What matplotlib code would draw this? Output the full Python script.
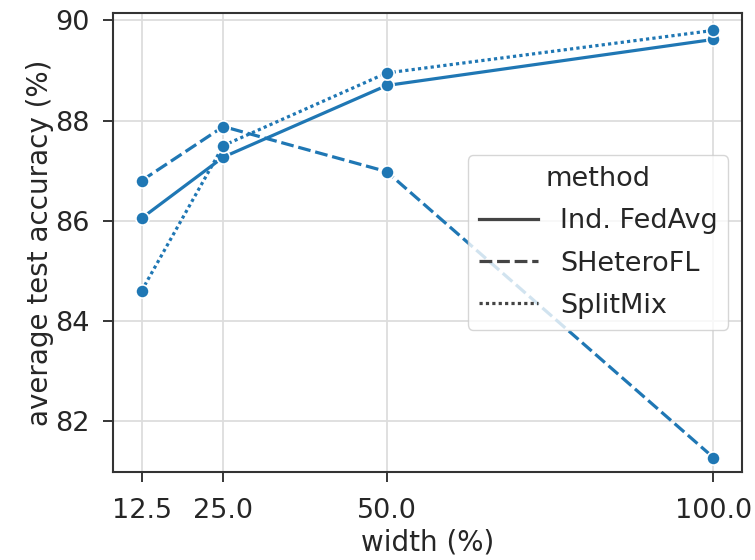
import numpy as np
import matplotlib
matplotlib.use("Agg")
import matplotlib.pyplot as plt
from matplotlib.lines import Line2D

# data
widths = [12.5, 25.0, 50.0, 100.0]
methods = ["Ind. FedAvg", "SHeteroFL", "SplitMix"]
fedavg = [86.05, 87.27, 88.70, 89.62]
sheterofl = [86.80, 87.88, 86.98, 81.27]
splitmix = [84.60, 87.50, 88.95, 89.80]

fs = 19.5
plt.rcParams['font.family'] = 'DejaVu Sans'
plt.rcParams['font.size'] = fs
plt.rcParams['text.color'] = '#262626'
plt.rcParams['axes.labelcolor'] = '#262626'
plt.rcParams['xtick.color'] = '#262626'
plt.rcParams['ytick.color'] = '#262626'

fig = plt.figure(figsize=(7.55, 5.6), dpi=100)
ax = fig.add_axes([0.1497, 0.157, 0.8331, 0.820])

blue = '#1f77b4'
dashes = [None, (4, 1.5), (1, 1)]
series = [fedavg, sheterofl, splitmix]
lw = 2.3
for vals, d in zip(series, dashes):
    line, = ax.plot(widths, vals, color=blue, lw=lw, marker='o', markersize=9.5,
                    markeredgecolor='white', markeredgewidth=1.2)
    if d is not None:
        line.set_dashes(d)

ax.set_xticks(widths)
ax.set_xticklabels(["12.5", "25.0", "50.0", "100.0"])
ax.set_yticks([82, 84, 86, 88, 90])
ax.set_xlim(8.125, 104.375)
ax.set_ylim(80.98, 90.15)
ax.grid(True, color='#dddddd', lw=1.3)
ax.set_axisbelow(True)
for s in ax.spines.values():
    s.set_color('#333333')
    s.set_linewidth(1.5)
ax.tick_params(length=7, width=1.3, labelsize=fs)
ax.tick_params(axis='x', pad=12)
ax.tick_params(axis='y', pad=10)

ax.set_xlabel("width (%)", fontsize=20, labelpad=3)
ax.set_ylabel("average test accuracy (%)", fontsize=20, labelpad=1)

handles = []
for m, d in zip(methods, dashes):
    h = Line2D([], [], color='#444444', lw=lw)
    if d is not None:
        h.set_dashes(d)
    handles.append(h)
ax.legend(handles, methods, title="method", loc='center right', fontsize=fs,
          title_fontsize=fs, framealpha=0.8, handlelength=2.2, labelspacing=0.6)

fig.savefig("out.png", dpi=100)
